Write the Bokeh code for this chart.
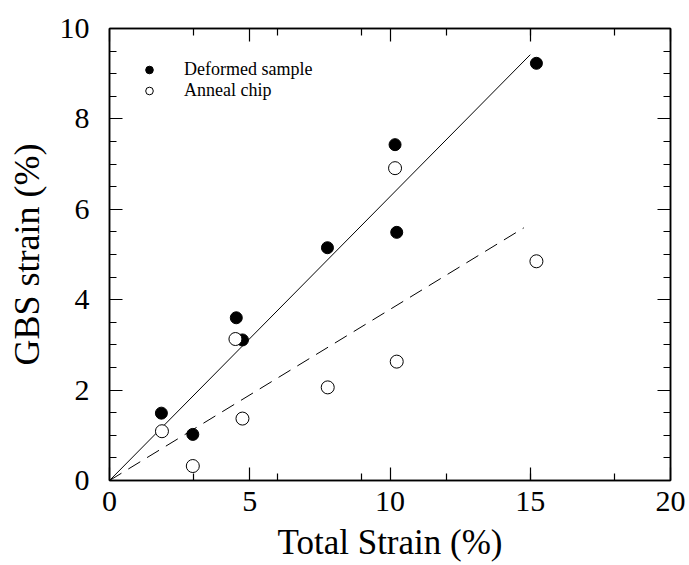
from bokeh.plotting import figure
from bokeh.models import (Range1d, FixedTicker, LinearAxis, Legend, LegendItem,
                          CustomJSTickFormatter)
from bokeh.embed import file_html
from bokeh.resources import INLINE

# Data
total_strain = [1.85, 2.97, 4.52, 4.74, 7.77, 10.18, 10.24, 15.22]
gbs_deformed = [1.49, 1.02, 3.60, 3.11, 5.15, 7.43, 5.49, 9.23]
anneal_x = [1.87, 2.97, 4.49, 4.74, 7.78, 10.18, 10.24, 15.22]
gbs_anneal = [1.09, 0.32, 3.13, 1.37, 2.06, 6.91, 2.63, 4.85]

fit_deformed_x = [0.0, 15.0]
fit_deformed_y = [0.0, 9.42]
fit_anneal_x = [0.0, 14.77]
fit_anneal_y = [0.0, 5.59]

x_major = [0, 5, 10, 15, 20]
x_minor = [3, 6, 9, 12, 15, 18]
y_major = [0, 2, 4, 6, 8, 10]
y_minor = [i * 0.5 for i in range(21)]

FONT = "Liberation Serif"

p = figure(width=689, height=565, output_backend="svg", toolbar_location=None,
           x_range=Range1d(0, 20), y_range=Range1d(0, 10),
           min_border_left=109, min_border_right=19, min_border_top=28, min_border_bottom=85)
p.background_fill_color = "white"
p.border_fill_color = "white"
p.outline_line_color = "black"
p.outline_line_width = 1.5
p.xgrid.visible = False
p.ygrid.visible = False

def style_axis(ax, major, minor, show_labels):
    ax.ticker = FixedTicker(ticks=major, minor_ticks=minor)
    ax.major_tick_in = 13
    ax.major_tick_out = 0
    ax.minor_tick_in = 7
    ax.minor_tick_out = 0
    ax.axis_line_color = "black"
    ax.axis_line_width = 1.5
    ax.major_tick_line_color = "black"
    ax.minor_tick_line_color = "black"
    ax.major_tick_line_width = 1.2
    ax.minor_tick_line_width = 1.2
    ax.major_label_text_font = FONT
    ax.major_label_text_color = "black"
    ax.axis_label_text_font = FONT
    ax.axis_label_text_font_style = "normal"
    ax.axis_label_text_color = "black"
    if not show_labels:
        ax.formatter = CustomJSTickFormatter(code="return ''")
        ax.major_label_standoff = 0

xa = p.xaxis[0]
style_axis(xa, x_major, x_minor, True)
xa.major_label_text_font_size = "30px"
xa.major_label_standoff = 11
xa.axis_label = "Total Strain (%)"
xa.axis_label_text_font_size = "35px"
xa.axis_label_standoff = 9

ya = p.yaxis[0]
style_axis(ya, y_major, y_minor, True)
ya.major_label_text_font_size = "30px"
ya.major_label_standoff = 20
ya.axis_label = "GBS strain (%)"
ya.axis_label_text_font_size = "36px"
ya.axis_label_standoff = 10

top = LinearAxis()
style_axis(top, x_major, x_minor, False)
p.add_layout(top, "above")
right = LinearAxis()
style_axis(right, y_major, y_minor, False)
p.add_layout(right, "right")

p.line(fit_deformed_x, fit_deformed_y, line_color="black", line_width=1)
p.line(fit_anneal_x, fit_anneal_y, line_color="black", line_width=1, line_dash="14 8")

r1 = p.scatter(total_strain, gbs_deformed, size=12, marker="circle",
               fill_color="black", line_color="black", line_width=1)
r2 = p.scatter(anneal_x, gbs_anneal, size=13, marker="circle",
               fill_color="white", line_color="black", line_width=1)

legend = Legend(items=[LegendItem(label="Deformed sample", renderers=[r1]),
                       LegendItem(label="Anneal chip", renderers=[r2])],
                location=(30, 379), orientation="vertical")
legend.label_text_font = FONT
legend.label_text_font_size = "18px"
legend.label_text_color = "black"
legend.glyph_width = 20
legend.glyph_height = 19
legend.label_height = 19
legend.label_standoff = 25
legend.spacing = 0
legend.padding = 0
legend.margin = 0
legend.border_line_color = None
legend.background_fill_alpha = 0
p.add_layout(legend, "center")

open("out.html", "w").write(file_html(p, INLINE))
